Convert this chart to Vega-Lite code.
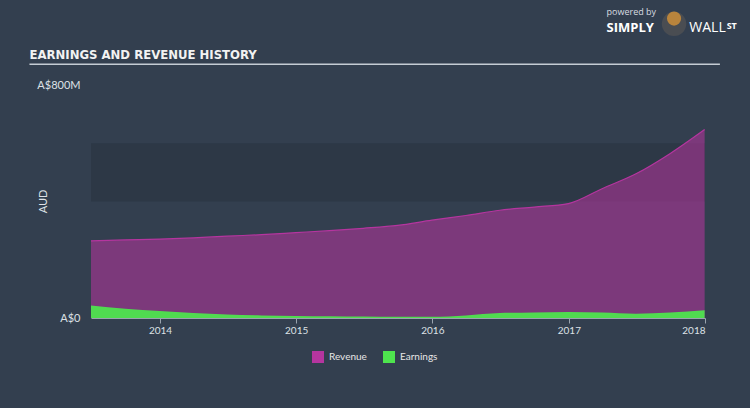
{
  "$schema": "https://vega.github.io/schema/vega-lite/v6.json",
  "width": 614,
  "height": 233,
  "autosize": {"type": "none"},
  "padding": {"left": 91, "top": 85, "right": 45, "bottom": 90},
  "background": "#333f4f",
  "config": {"view": {"stroke": null}, "font": "Lato"},
  "datasets": {
    "fin": [
      {"date": "2013-06-30", "revenue": 265, "earnings": 43},
      {"date": "2013-09-30", "revenue": 268, "earnings": 32},
      {"date": "2013-12-31", "revenue": 271, "earnings": 24},
      {"date": "2014-03-31", "revenue": 275, "earnings": 17},
      {"date": "2014-06-30", "revenue": 281, "earnings": 12},
      {"date": "2014-09-30", "revenue": 286, "earnings": 9},
      {"date": "2014-12-31", "revenue": 293, "earnings": 7},
      {"date": "2015-03-31", "revenue": 300, "earnings": 6},
      {"date": "2015-06-30", "revenue": 308, "earnings": 5},
      {"date": "2015-09-30", "revenue": 318, "earnings": 4},
      {"date": "2015-12-31", "revenue": 336, "earnings": 4},
      {"date": "2016-03-31", "revenue": 352, "earnings": 9},
      {"date": "2016-06-30", "revenue": 370, "earnings": 17},
      {"date": "2016-09-30", "revenue": 381, "earnings": 19},
      {"date": "2016-12-31", "revenue": 393, "earnings": 21},
      {"date": "2017-03-31", "revenue": 444, "earnings": 19},
      {"date": "2017-06-30", "revenue": 495, "earnings": 15},
      {"date": "2017-09-30", "revenue": 565, "earnings": 19},
      {"date": "2017-12-31", "revenue": 647, "earnings": 27}
    ],
    "band": [{"start": "2013-06-30", "end": "2018-01-01", "lo": 400, "hi": 600}]
  },
  "layer": [
    {
      "data": {"name": "band"},
      "mark": {"type": "rect", "color": "#2d3846"},
      "encoding": {
        "x": {"field": "start", "type": "temporal", "scale": {"domain": [{"year": 2013, "month": 6, "date": 30}, {"year": 2018, "month": 1, "date": 1}]},
          "axis": {"values": [{"year": 2014, "month": 1, "date": 1}, {"year": 2015, "month": 1, "date": 1}, {"year": 2016, "month": 1, "date": 1}, {"year": 2017, "month": 1, "date": 1}, {"year": 2018, "month": 1, "date": 1}],
            "format": "%Y", "grid": false, "title": null, "domainColor": "#9aa4ae", "tickColor": "#9aa4ae", "tickSize": 5, "labelColor": "#dde1e6", "labelFontSize": 10, "labelPadding": 2}},
        "x2": {"field": "end"},
        "y": {"field": "lo", "type": "quantitative", "scale": {"domain": [0, 800]},
          "axis": {"values": [0, 800], "labelExpr": "datum.value == 0 ? 'A$0' : 'A$800M'", "domain": false, "ticks": false, "grid": false, "labelPadding": 11, "labelColor": "#dde1e6", "labelFontSize": 11, "title": "AUD", "titleColor": "#dde1e6", "titleFontSize": 11, "titleFontWeight": "normal", "titleX": -43, "titleY": 116}},
        "y2": {"field": "hi"}
      }
    },
    {
      "data": {"name": "fin"},
      "mark": {"type": "area", "interpolate": "monotone", "fillOpacity": 0.56, "line": {"color": "#c03aa8", "strokeWidth": 1.2}},
      "encoding": {
        "x": {"field": "date", "type": "temporal", "scale": {"domain": [{"year": 2013, "month": 6, "date": 30}, {"year": 2018, "month": 1, "date": 1}]}},
        "y": {"field": "revenue", "type": "quantitative", "scale": {"domain": [0, 800]}},
        "color": {"datum": "Revenue", "type": "nominal", "scale": {"domain": ["Revenue", "Earnings"], "range": ["#b5359f", "#4ee44e"]},
          "legend": {"orient": "none", "legendX": 221, "legendY": 266, "direction": "horizontal", "title": null, "symbolType": "square", "symbolSize": 144, "symbolOpacity": 1, "symbolStrokeWidth": 0, "labelColor": "#e6e6e6", "labelFontSize": 10, "columnPadding": 16, "labelOffset": 5}}
      }
    },
    {
      "data": {"name": "fin"},
      "mark": {"type": "area", "interpolate": "monotone", "fillOpacity": 0.95},
      "encoding": {
        "x": {"field": "date", "type": "temporal", "scale": {"domain": [{"year": 2013, "month": 6, "date": 30}, {"year": 2018, "month": 1, "date": 1}]}},
        "y": {"field": "earnings", "type": "quantitative", "scale": {"domain": [0, 800]}},
        "color": {"datum": "Earnings", "type": "nominal"}
      }
    },
    {
      "data": {"values": [{}]},
      "mark": {"type": "rule", "color": "#c5ccd4", "strokeWidth": 1.5},
      "encoding": {
        "x": {"datum": {"year": 2013, "month": 1, "date": 16}, "type": "temporal"},
        "x2": {"datum": {"year": 2018, "month": 2, "date": 10}},
        "y": {"datum": 871, "type": "quantitative"}
      }
    },
    {
      "data": {"values": [{"t": "EARNINGS AND REVENUE HISTORY"}]},
      "mark": {"type": "text", "align": "left", "baseline": "alphabetic", "fontSize": 13, "fontWeight": "bold", "color": "#f2f2f2", "font": "DejaVu Sans Condensed, Liberation Sans Narrow, Roboto, sans-serif"},
      "encoding": {
        "text": {"field": "t"},
        "x": {"datum": {"year": 2013, "month": 1, "date": 16}, "type": "temporal"},
        "y": {"datum": 888, "type": "quantitative"}
      }
    },
    {
      "data": {"values": [{"t": "powered by"}]},
      "mark": {"type": "text", "align": "left", "baseline": "alphabetic", "fontSize": 9, "color": "#d8dce0", "font": "Open Sans"},
      "encoding": {
        "text": {"field": "t"},
        "x": {"datum": {"year": 2017, "month": 4, "date": 12}, "type": "temporal"},
        "y": {"datum": 1040, "type": "quantitative"}
      }
    },
    {
      "data": {"values": [{"t": "SIMPLY"}]},
      "mark": {"type": "text", "align": "left", "baseline": "alphabetic", "fontSize": 13, "fontWeight": "bold", "color": "#ffffff", "font": "Open Sans"},
      "encoding": {
        "text": {"field": "t"},
        "x": {"datum": {"year": 2017, "month": 4, "date": 12}, "type": "temporal"},
        "y": {"datum": 983, "type": "quantitative"}
      }
    },
    {
      "data": {"values": [{"t": "WALL"}]},
      "mark": {"type": "text", "align": "left", "baseline": "alphabetic", "fontSize": 14, "color": "#ffffff", "font": "Open Sans"},
      "encoding": {
        "text": {"field": "t"},
        "x": {"datum": {"year": 2017, "month": 11, "date": 20}, "type": "temporal"},
        "y": {"datum": 983, "type": "quantitative"}
      }
    },
    {
      "data": {"values": [{"t": "ST"}]},
      "mark": {"type": "text", "align": "left", "baseline": "alphabetic", "fontSize": 9, "fontWeight": "bold", "color": "#ffffff", "font": "Open Sans"},
      "encoding": {
        "text": {"field": "t"},
        "x": {"datum": {"year": 2018, "month": 2, "date": 28}, "type": "temporal"},
        "y": {"datum": 991, "type": "quantitative"}
      }
    },
    {
      "data": {"values": [{}]},
      "mark": {"type": "point", "shape": "circle", "filled": true, "size": 600, "color": "#4a4d52", "opacity": 1},
      "encoding": {
        "x": {"datum": {"year": 2017, "month": 10, "date": 10}, "type": "temporal"},
        "y": {"datum": 1010, "type": "quantitative"}
      }
    },
    {
      "data": {"values": [{}]},
      "mark": {"type": "point", "shape": "circle", "filled": true, "size": 200, "color": "#b9843c", "opacity": 1},
      "encoding": {
        "x": {"datum": {"year": 2017, "month": 10, "date": 10}, "type": "temporal"},
        "y": {"datum": 1028, "type": "quantitative"}
      }
    }
  ]
}
